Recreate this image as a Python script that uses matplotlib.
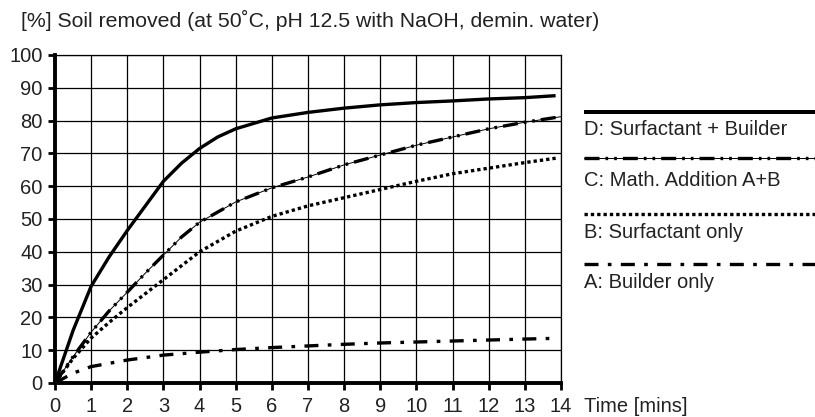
import numpy as np
import matplotlib.pyplot as plt
from matplotlib.lines import Line2D

plt.rcParams['font.family'] = ['Liberation Sans', 'DejaVu Sans']

# curves (time in mins, soil removed in %)
t_d = [0, 0.5, 1, 1.5, 2, 2.5, 3, 3.5, 4, 4.5, 5, 6, 7, 8, 9, 10, 11, 12, 13, 13.85]
y_d = [0, 16, 29.5, 38.5, 46.5, 54, 61.5, 67, 71.5, 75, 77.5, 80.8, 82.5, 83.8, 84.8,
       85.5, 86, 86.6, 87, 87.6]

t_c = [0, 0.5, 1, 1.5, 2, 2.5, 3, 3.5, 4, 5, 6, 7, 8, 9, 10, 11, 12, 13, 14]
y_c = [0, 8, 15.5, 22, 27.7, 33.5, 39, 44.5, 49, 55.2, 59.5, 62.8, 66.5, 69.5, 72.5,
       75, 77.5, 79.5, 81.2]

t_b = [0, 0.5, 1, 1.5, 2, 3, 4, 5, 6, 7, 8, 9, 10, 11, 12, 13, 13.9]
y_b = [0, 7.5, 13.7, 18.5, 23, 31.5, 40, 46.3, 50.8, 54, 56.5, 59, 61.5, 63.8, 65.5,
       67.2, 68.6]

t_a = [0, 0.5, 1, 2, 3, 4, 5, 6, 7, 8, 9, 10, 11, 12, 13, 13.8]
y_a = [0, 3, 5, 7, 8.5, 9.4, 10.2, 10.8, 11.3, 11.8, 12.2, 12.5, 12.8, 13.1, 13.4, 13.6]

labels = ['D: Surfactant + Builder', 'C: Math. Addition A+B',
          'B: Surfactant only', 'A: Builder only']

txt = '#222222'
fs = 14.5
lw = 2.4
dash_c = (4.5, 1.8, 0.8, 1.8, 0.8, 1.8)
dash_b = (1.0, 0.9)
dash_a = (4.2, 2.8, 1.1, 2.8)

fig = plt.figure(figsize=(8.15, 4.17), dpi=100)
ax = fig.add_axes([55/815, 34/417, 506/815, 328/417])

ax.plot(t_d, y_d, color='k', lw=lw, solid_capstyle='butt')
ax.plot(t_c, y_c, color='k', lw=0.7)
ax.plot(t_c, y_c, color='k', lw=lw, dashes=dash_c)
ax.plot(t_b, y_b, color='k', lw=lw, dashes=dash_b)
ax.plot(t_a, y_a, color='k', lw=lw, dashes=dash_a)

ax.set_xlim(0, 14)
ax.set_ylim(0, 100)
ax.set_xticks(range(0, 15))
ax.set_yticks(range(0, 101, 10))
ax.grid(True, color='k', lw=0.9)
ax.set_axisbelow(True)
for s in ['left', 'bottom']:
    ax.spines[s].set_linewidth(2.8)
for s in ['top', 'right']:
    ax.spines[s].set_linewidth(0.9)
ax.tick_params(axis='both', length=5, width=2, labelsize=fs, labelcolor=txt,
               direction='out', pad=4)
ax.tick_params(axis='x', pad=5)

fig.text(21/815, 1 - 20/417, '[%] Soil removed (at 50˚C, pH 12.5 with NaOH, demin. water)',
         fontsize=15.3, color=txt, va='center', ha='left')
fig.text(584/815, 1 - 407/417, 'Time [mins]', fontsize=fs, color=txt,
         va='center', ha='left')

# legend: sample line above each label
line_y = [112, 158, 214, 264]
text_y = [129, 181, 232, 283]
styles = [dict(), dict(dashes=dash_c), dict(dashes=dash_b), dict(dashes=dash_a)]
for lab, ly, ty, st in zip(labels, line_y, text_y, styles):
    yf = 1 - ly / 417
    if lab.startswith('C'):
        fig.add_artist(Line2D([584/815, 1], [yf, yf], color='k', lw=0.7))
    fig.add_artist(Line2D([584/815, 1], [yf, yf], color='k',
                          lw=2.9 if not st else lw, solid_capstyle='butt', **st))
    fig.text(584/815, 1 - ty / 417, lab, fontsize=fs, color=txt,
             va='center', ha='left')

fig.savefig('out.png', dpi=100)
